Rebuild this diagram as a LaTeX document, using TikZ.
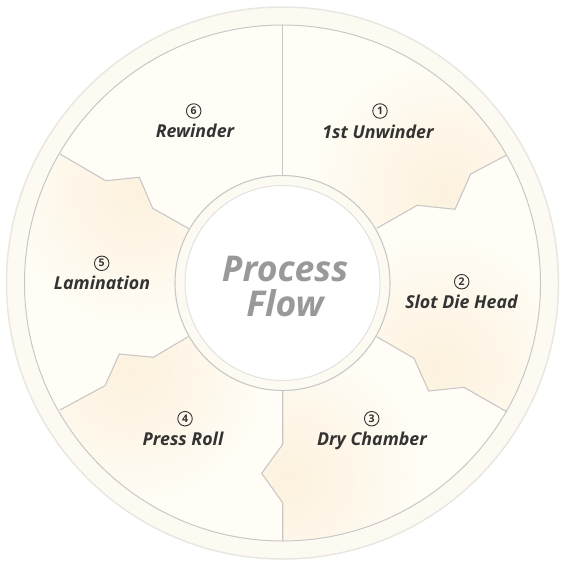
\documentclass[tikz,border=0pt]{standalone}
\usepackage{fontspec}
\setmainfont{Open Sans}
\definecolor{cream}{HTML}{FFFDF5}
\definecolor{peach}{HTML}{FDF1DE}
\definecolor{band}{HTML}{FDFBF1}
\definecolor{bandline}{HTML}{E8E7E1}
\definecolor{segline}{HTML}{C8C8C8}
\definecolor{innerline}{HTML}{E2E2E0}
\definecolor{txt}{HTML}{333333}
\definecolor{titlegray}{HTML}{999999}
\begin{document}
\begin{tikzpicture}[x=1pt,y=-1pt,
  lbl/.style={font=\fontsize{17.8}{20}\selectfont\bfseries\itshape, text=txt, anchor=base, inner sep=0pt},
  num/.style={circle, draw=txt, line width=0.9pt, minimum size=14.5pt, inner sep=0pt,
    font=\fontsize{10.5}{11}\selectfont\bfseries, text=txt},
  title/.style={font=\fontsize{35.5}{40}\selectfont\bfseries\itshape, text=titlegray, anchor=base, inner sep=0pt},
  seg/.style={draw=segline, line width=1.1pt, line join=miter},
  blob/.style={inner color=peach, outer color=cream}
]
\useasboundingbox (0,0) rectangle (562,564);
\coordinate (O) at (282.5,283);
% boundary points
\coordinate (p61a) at (282.7,25);   \coordinate (p61e) at (282.7,175.5);
\coordinate (p12a) at (506.7,155);  \coordinate (p12b) at (470.7,174);
\coordinate (p12c) at (455,209.3);  \coordinate (p12d) at (417.3,205.3);
\coordinate (p12e) at (376.7,228.3);
\coordinate (p23a) at (506.7,411.7); \coordinate (p23b) at (464,387.3);
\coordinate (p23c) at (428.7,391);   \coordinate (p23d) at (414,358.3);
\coordinate (p23e) at (376.7,336.7);
\coordinate (p34a) at (282.7,541);   \coordinate (p34b) at (282.7,502.7);
\coordinate (p34c) at (261.7,473.3); \coordinate (p34d) at (282.7,444.3);
\coordinate (p34e) at (282.7,390.5);
\coordinate (p45a) at (60,410);      \coordinate (p45b) at (105,385.7);
\coordinate (p45c) at (119.3,354);   \coordinate (p45d) at (153.3,357.3);
\coordinate (p45e) at (188.3,336.7);
\coordinate (p56a) at (60,154);      \coordinate (p56b) at (105.7,180.7);
\coordinate (p56c) at (139.3,177.3); \coordinate (p56d) at (152.7,208.3);
\coordinate (p56e) at (190,229.3);
% far points
\coordinate (x90) at (282.7,-47);
\coordinate (x30) at (568.3,118);
\coordinate (xm30) at (568.3,448);
\coordinate (xm90) at (282.7,613);
\coordinate (x210) at (-3.3,448);
\coordinate (x150) at (-3.3,118);

% outer band
\fill[band, draw=bandline, line width=1.5pt] (O) circle[radius=276pt];
\fill[cream] (O) circle[radius=258pt];

\begin{scope}
  \clip (O) circle[radius=258pt];
  % segment 1
  \begin{scope}
    \clip (O) -- (p61e) -- (p61a) -- (x90) -- (x30) -- (p12a) -- (p12b) -- (p12c) -- (p12d) -- (p12e) -- cycle;
    \shade[blob] (445,192) circle[radius=135pt];
  \end{scope}
  % segment 2
  \begin{scope}
    \clip (O) -- (p12e) -- (p12d) -- (p12c) -- (p12b) -- (p12a) -- (x30) -- (xm30) -- (p23a) -- (p23b) -- (p23c) -- (p23d) -- (p23e) -- cycle;
    \shade[blob] (438,368) circle[radius=135pt];
  \end{scope}
  % segment 3
  \begin{scope}
    \clip (O) -- (p23e) -- (p23d) -- (p23c) -- (p23b) -- (p23a) -- (xm30) -- (xm90) -- (p34a) -- (p34b) -- (p34c) -- (p34d) -- (p34e) -- cycle;
    \shade[blob] (288,478) circle[radius=135pt];
  \end{scope}
  % segment 4
  \begin{scope}
    \clip (O) -- (p34e) -- (p34d) -- (p34c) -- (p34b) -- (p34a) -- (xm90) -- (x210) -- (p45a) -- (p45b) -- (p45c) -- (p45d) -- (p45e) -- cycle;
    \shade[blob] (132,372) circle[radius=135pt];
  \end{scope}
  % segment 5
  \begin{scope}
    \clip (O) -- (p45e) -- (p45d) -- (p45c) -- (p45b) -- (p45a) -- (x210) -- (x150) -- (p56a) -- (p56b) -- (p56c) -- (p56d) -- (p56e) -- cycle;
    \shade[blob] (138,192) circle[radius=135pt];
  \end{scope}
\end{scope}

% boundaries
\draw[seg] (p61e) -- (p61a);
\draw[seg] (p12a) -- (p12b) -- (p12c) -- (p12d) -- (p12e);
\draw[seg] (p23a) -- (p23b) -- (p23c) -- (p23d) -- (p23e);
\draw[seg] (p34a) -- (p34b) -- (p34c) -- (p34d) -- (p34e);
\draw[seg] (p45a) -- (p45b) -- (p45c) -- (p45d) -- (p45e);
\draw[seg] (p56a) -- (p56b) -- (p56c) -- (p56d) -- (p56e);
\draw[segline, line width=1pt] (O) circle[radius=258pt];

% centre
\fill[band, draw=segline, line width=1.1pt] (O) circle[radius=107.5pt];
\fill[white, draw=innerline, line width=1pt] (O) circle[radius=97.5pt];

% texts
\node[title] (t1) at (285,281.7) {Process};
\node[title] (t2) at (285,316.7) {Flow};

\node[num] (n1) at (380,111) {1};
\node[lbl] (l1) at (378,138.3) {1st Unwinder};
\node[num] (n2) at (461.7,281.7) {2};
\node[lbl] (l2) at (461.5,308.3) {Slot Die Head};
\node[num] (n3) at (371.7,418.7) {3};
\node[lbl] (l3) at (372,445.3) {Dry Chamber};
\node[num] (n4) at (185,418.7) {4};
\node[lbl] (l4) at (183,445.3) {Press Roll};
\node[num] (n5) at (101.7,263.3) {5};
\node[lbl] (l5) at (102,289.5) {Lamination};
\node[num] (n6) at (193.7,111) {6};
\node[lbl] (l6) at (195,137.3) {Rewinder};
\end{tikzpicture}
\end{document}
